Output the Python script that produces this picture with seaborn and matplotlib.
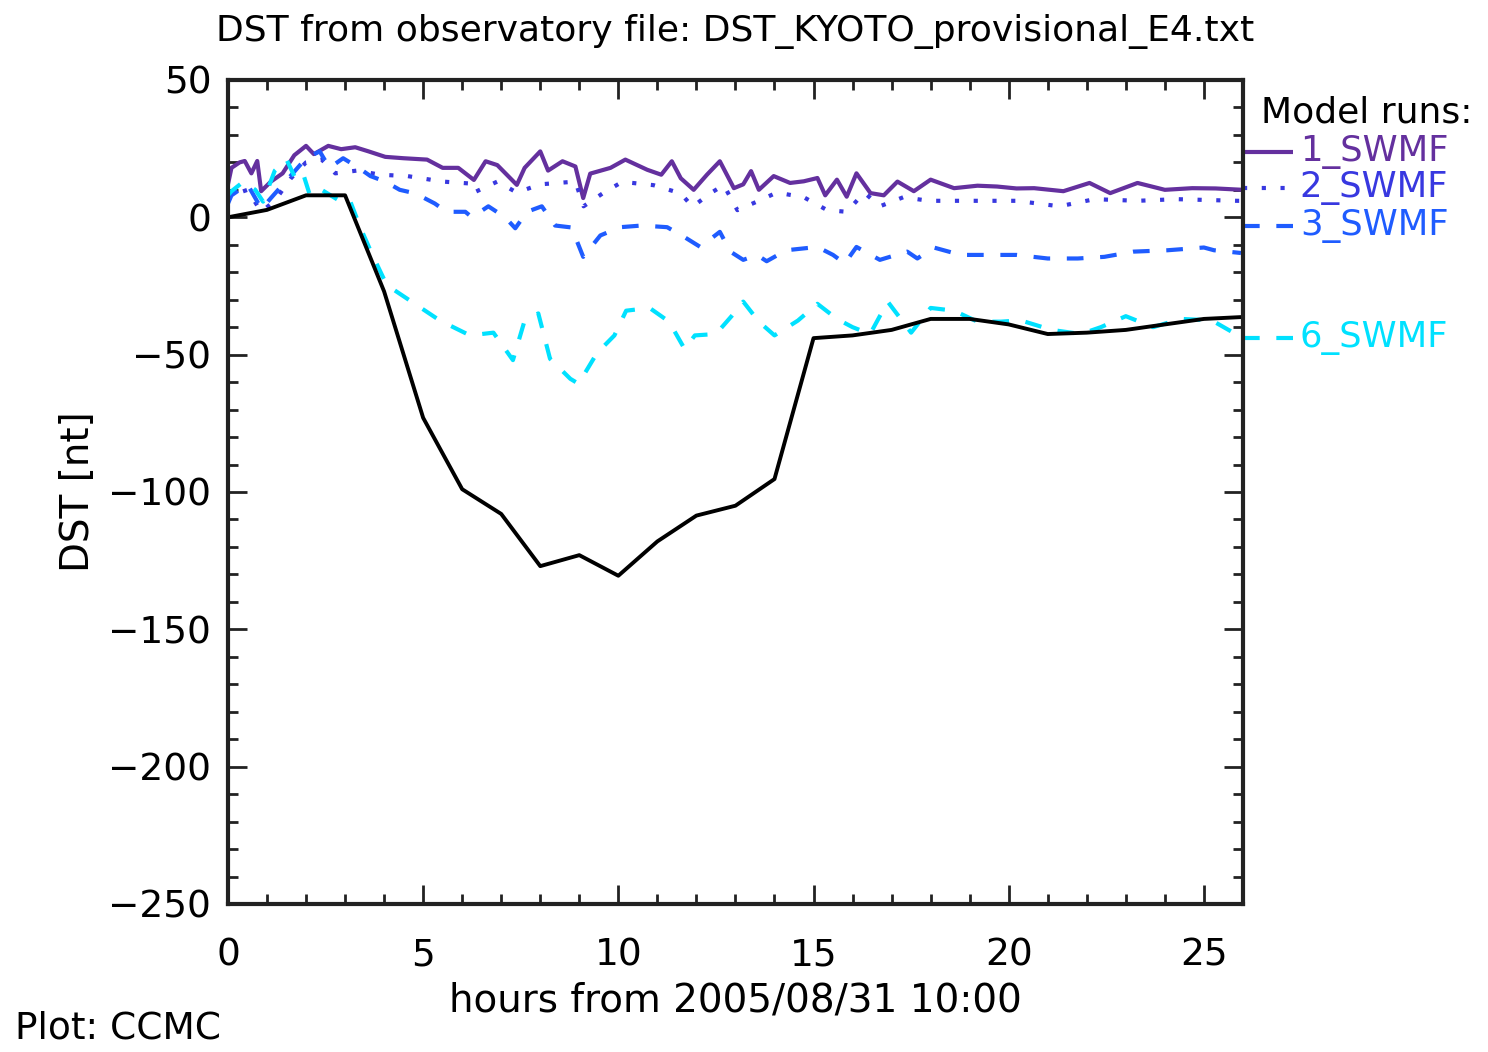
import numpy as np
import pandas as pd
import seaborn as sns
import matplotlib
matplotlib.use("Agg")
import matplotlib.pyplot as plt
from matplotlib.ticker import MultipleLocator

sns.set_style("ticks")
plt.rcParams['font.family'] = ['DejaVu Sans']
plt.rcParams['text.color'] = 'black'
plt.rcParams['axes.labelcolor'] = 'black'
plt.rcParams['xtick.color'] = 'black'
plt.rcParams['ytick.color'] = 'black'

# observed Dst (hourly)
obs_hours = list(range(0, 27))
obs_dst = [0, 2.7, 8, 8, -27, -73, -99, -108, -127, -123, -130.5, -118, -108.6,
           -105, -95.3, -44, -43, -41, -37, -37, -39, -42.5, -42, -41, -39, -37, -36.3]

# model runs
t1 = [0.0, 0.09, 0.3, 0.43, 0.6, 0.75, 0.85, 1.1, 1.4, 1.7, 2.0, 2.2, 2.57, 2.9, 3.26,
      3.6, 4.03, 4.5, 5.1, 5.5, 5.9, 6.3, 6.6, 6.9, 7.4, 7.6, 8.0, 8.2, 8.57, 8.9, 9.1,
      9.28, 9.8, 10.18, 10.74, 11.1, 11.37, 11.6, 11.93, 12.27, 12.6, 12.96, 13.2, 13.4,
      13.6, 13.98, 14.4, 14.75, 15.1, 15.3, 15.6, 15.85, 16.1, 16.46, 16.8, 17.15, 17.57,
      18.0, 18.6, 19.2, 19.7, 20.2, 20.65, 21.4, 22.07, 22.6, 23.3, 24.0, 24.7, 25.3, 26.0]
v1 = [12, 18, 20, 20.5, 16, 20.5, 9.5, 13, 16, 22.6, 26, 23, 26, 24.8, 25.5,
      24, 22, 21.5, 21, 18, 18, 13.6, 20.4, 19, 11.8, 18, 24, 17, 20.4, 18.5, 7,
      15.9, 18, 21, 17.3, 15.5, 20.4, 14.2, 10, 15.5, 20.4, 10.6, 12, 16.8,
      10, 15, 12.5, 13.1, 14.3, 8, 13.7, 7.5, 16, 8.8, 8, 13, 9.5,
      13.7, 10.6, 11.5, 11.2, 10.5, 10.6, 9.5, 12.5, 8.8, 12.5, 10, 10.6, 10.5, 10]

t2 = [0.0, 0.09, 0.5, 0.85, 1.2, 1.6, 2.0, 2.4, 2.75, 3.3, 3.9, 4.6, 5.5, 6.2, 6.3,
      6.9, 7.4, 8.0, 8.9, 9.11, 9.63, 10.1, 10.9, 11.6, 11.9, 12.35, 12.7, 13.05, 13.55,
      14.06, 14.75, 15.35, 15.85, 16.3, 16.7, 17.3, 17.96, 18.9, 20.2, 21.3, 22.2, 23.3,
      24.3, 25.85, 26.0]
v2 = [6, 8, 10, 2, 6, 14, 20, 21, 16, 17, 15.5, 15, 13, 12.3, 9,
      13, 9, 12, 13, 4, 9, 12.9, 11.7, 8.7, 3.8, 8.7, 11.7, 2.6, 5.7,
      9, 7.3, 2.6, 2, 9, 4, 7.3, 6, 6, 6, 4, 6.6, 6,
      6.6, 6, 6]

t3 = [0.0, 0.09, 0.5, 0.86, 1.1, 1.6, 2.0, 2.35, 2.6, 2.95, 3.35, 3.65, 4.03, 4.4, 4.8,
      5.3, 5.6, 6.08, 6.25, 6.67, 7.1, 7.36, 7.66, 8.04, 8.38, 8.8, 9.1, 9.54, 10.05,
      10.6, 11.25, 11.67, 12.1, 12.6, 12.87, 13.2, 13.55, 13.8, 14.3, 15.1, 15.5, 15.8,
      16.1, 16.7, 17.4, 17.66, 18.08, 18.77, 19.45, 20.2, 21.0, 21.77, 22.45, 23.2,
      24.07, 25.0, 25.26, 25.95]
v3 = [5, 8, 12, 3, 7, 15, 21.5, 24, 18, 21.5, 18, 15, 13, 10, 8.7,
      5, 2, 2, 0, 4, 0, -4, 2, 4, -3, -3.7, -14.4, -6.6, -3.6,
      -3, -3.6, -7, -10.8, -5.3, -12.5, -15.5, -13.7, -16, -12, -10.8, -13.7, -16.8,
      -10.8, -15.5, -12.5, -15, -11, -13.7, -13.7, -13.7, -15, -15, -14.4, -12.5,
      -12, -11, -12, -13]

t6 = [0.0, 0.09, 0.4, 0.7, 0.9, 1.2, 1.5, 1.7, 1.9, 2.1, 2.4, 2.8, 3.1, 3.4, 3.7,
      4.07, 4.84, 5.43, 6.2, 6.8, 7.3, 7.6, 7.95, 8.25, 8.77, 8.98, 9.45, 9.9, 10.2,
      10.8, 11.3, 11.7, 11.96, 12.5, 12.9, 13.2, 13.6, 14.0, 14.6, 15.1, 15.6, 16.0,
      16.45, 16.9, 17.5, 18.0, 18.6, 19.2, 19.8, 20.3, 21.1, 21.85, 22.36, 23.0, 23.7,
      24.4, 25.2, 26.0]
v6 = [8, 9.5, 13, 10, 5.7, 17, 21, 15, 17, 8, 10, 6.5, 7, -4, -13.7,
      -24.7, -32, -37.6, -43, -42, -52, -37.6, -35, -51.5, -58.8, -60.6, -49.5, -43, -34,
      -33, -38, -48, -43, -42.5, -36, -30.7, -38, -43, -37.6, -31.5, -37, -40,
      -42.5, -30.7, -42, -33, -34, -38, -38, -37.5, -41, -42.5, -40, -36, -40,
      -37, -37.5, -44]

run_names = ["1_SWMF", "2_SWMF", "3_SWMF", "6_SWMF"]
run_colors = ["#64309e", "#3838e0", "#1f5cff", "#00e1ff"]
run_styles = [(0, ()), (0, (1, 3.5)), (0, (4, 4)), (0, (4, 4))]

fig = plt.figure(figsize=(14.88, 10.52), dpi=100)
ax = fig.add_axes([0.1532, 0.1407, 0.6821, 0.7833])

runs = [(t1, v1), (t2, v2), (t3, v3), (t6, v6)]
for (t, v), name, col, ls in zip(runs, run_names, run_colors, run_styles):
    df = pd.DataFrame({"hours": t, "dst": v})
    sns.lineplot(data=df, x="hours", y="dst", ax=ax, color=col, linestyle=ls,
                 linewidth=3, estimator=None, sort=False)

obs = pd.DataFrame({"hours": obs_hours, "dst": obs_dst})
sns.lineplot(data=obs, x="hours", y="dst", ax=ax, color="black", linewidth=2.8,
             estimator=None, sort=False)

ax.set_xlim(0, 26)
ax.set_ylim(-250, 50)
ax.xaxis.set_major_locator(MultipleLocator(5))
ax.xaxis.set_minor_locator(MultipleLocator(1))
ax.yaxis.set_major_locator(MultipleLocator(50))
ax.yaxis.set_minor_locator(MultipleLocator(10))
ax.tick_params(which="both", direction="in", top=True, right=True, width=2, color="#222222")
ax.tick_params(which="major", length=14, labelsize=27)
ax.tick_params(axis="x", which="major", pad=24)
ax.tick_params(axis="y", which="major", pad=12)
ax.tick_params(which="minor", length=7)
for sp in ax.spines.values():
    sp.set_linewidth(3)
    sp.set_color("#222222")

ax.set_xlabel("hours from 2005/08/31 10:00", fontsize=28, labelpad=6)
ax.set_ylabel("DST [nt]", fontsize=28, labelpad=8)
ax.set_title("DST from observatory file: DST_KYOTO_provisional_E4.txt", fontsize=26, pad=28)

# legend drawn at the right side, outside the axes
ax.text(1.018, 0.961, "Model runs:", transform=ax.transAxes, fontsize=26, va="center")
label_y = [0.913, 0.869, 0.823, 0.687]
for name, col, ls, y in zip(run_names, run_colors, run_styles, label_y):
    ax.plot([1.0, 1.049], [y, y], transform=ax.transAxes, color=col, linestyle=ls,
            linewidth=3, clip_on=False)
    ax.text(1.056, y, name, transform=ax.transAxes, color=col, fontsize=25.5, va="center")

fig.text(0.01, 0.022, "Plot: CCMC", fontsize=27, va="center")

fig.savefig("out.png", dpi=100)
